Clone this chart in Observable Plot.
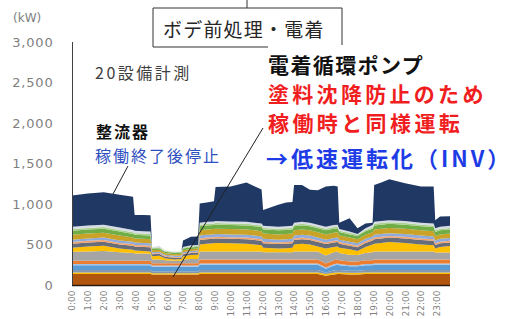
<!DOCTYPE html>
<html><head><meta charset="utf-8">
<script src="https://cdn.jsdelivr.net/npm/d3@7"></script>
<script src="https://cdn.jsdelivr.net/npm/@observablehq/plot@0.6"></script>
<style>
html,body{margin:0;padding:0;background:#fff;}
#wrap{position:relative;width:512px;height:319px;overflow:hidden;background:#fff;}
#chart{position:absolute;left:0;top:0;}
#over{position:absolute;left:0;top:0;}
#over text{font-family:"Noto Sans CJK JP","Noto Sans",sans-serif;dominant-baseline:central;}
g[aria-label="y-axis tick label"] text{letter-spacing:0.8px;}
</style></head><body>
<div id="wrap">
<div id="chart"></div>
<svg id="over" width="512" height="319" viewBox="0 0 512 319">
  <path d="M247,0 L247,8 M153,47 L153,8 L342,8 L342,45 M153,47 L268,47" fill="none" stroke="#333" stroke-width="1"/>
  <line x1="128" y1="166" x2="113" y2="194" stroke="#222" stroke-width="1"/>
  <line x1="263" y1="128" x2="173" y2="277" stroke="#222" stroke-width="1"/>
  <text x="13" y="18" style="font-family:'DejaVu Sans';font-size:12px;fill:#7f7f7f">(kW)</text>
  <text x="95" y="72" style="font-size:16px;fill:#404040;letter-spacing:2.5px">20設備計測</text>
  <text x="163" y="28" style="font-size:19px;fill:#262626;letter-spacing:1.2px">ボデ前処理・電着</text>
  <text x="268" y="64" style="font-size:21px;font-weight:700;fill:#111;letter-spacing:1.4px">電着循環ポンプ</text>
  <text x="268" y="93" style="font-size:21px;font-weight:700;fill:#F01E1E;letter-spacing:3.3px">塗料沈降防止のため</text>
  <text x="268" y="122" style="font-size:21px;font-weight:700;fill:#F01E1E;letter-spacing:3.4px">稼働時と同様運転</text>
  <text x="266" y="157" style="font-size:22px;font-weight:700;fill:#1E3CE6;letter-spacing:3px">→低速運転化（INV）</text>
  <text x="96" y="131" style="font-size:16px;font-weight:700;fill:#111;letter-spacing:2px">整流器</text>
  <text x="95" y="155" style="font-size:16px;fill:#2F4FC0;letter-spacing:2px">稼働終了後停止</text>
</svg>
</div>
<script>
// time points (hours)
const T = [0,1,2,3,3.85,3.95,4.5,4.95,5.05,5.5,5.85,6.5,6.9,7.0,7.5,7.95,8.05,8.5,8.95,9.05,10,11,11.5,11.95,12.05,13,13.5,13.9,14.0,14.5,15,15.5,16,16.5,16.75,16.85,17.5,18.0,18.5,18.95,19.05,19.5,20,21,22,22.8,22.9,23.2,23.83];

// stacked series, bottom -> top (kW)
const s01 = [135,135,135,135,135,135,135,135, 130,130,130,130,130,130,130,130, 135,135,135,135,135,135,135,135, 135,135,135,135, 135,135,135,135,115,130,135, 135,130,130,135,135, 135,135,135,135,135,135, 135,135,135];
const s02 = [20,20,20,20,20,20,20,20, 15,15,15,15,15,15,15,15, 20,20,20,20,20,20,20,20, 20,20,20,20, 20,20,20,20,20,20,20, 20,20,20,20,20, 20,20,20,20,20,20, 20,20,20];
const s03 = [30,30,30,30,30,30,30,30, 25,25,25,25,25,25,25,25, 30,30,30,30,30,30,30,30, 30,30,30,30, 30,30,30,30,20,30,30, 30,25,25,30,30, 30,30,30,30,30,30, 30,30,30];
const s04 = [60,60,60,60,60,60,60,60, 55,55,55,55,55,55,55,55, 65,65,65,65,65,65,65,65, 65,65,65,65, 65,65,65,65,45,60,65, 60,55,55,60,60, 65,65,65,65,65,65, 65,65,65];
const s05 = [15,15,15,15,15,15,15,15, 15,15,15,15,15,15,15,15, 15,15,15,15,15,15,15,15, 15,15,15,15, 15,15,15,15,15,15,15, 15,15,15,15,15, 15,15,15,15,15,15, 15,15,15];
const s06 = [40,40,40,40,40,40,40,40, 30,30,30,30,30,30,30,30, 50,50,50,50,50,50,50,50, 50,50,50,50, 50,50,50,50,50,50,50, 45,45,45,45,45, 50,50,50,50,50,50, 50,50,50];
const s07 = [110,115,120,105,95,90,88,85, 45,45,35,30,30,45,50,50, 100,100,100,100,100,100,100,100, 90,90,90,90, 100,100,100,100,100,100,100, 90,85,80,90,100, 100,100,100,100,100,100, 85,85,85];
const s08 = [50,60,65,45,40,35,32,30, 40,45,25,15,20,40,50,55, 85,95,100,105,100,95,85,75, 55,45,50,55, 85,95,85,60,85,65,60, 65,65,50,75,95, 95,105,115,105,85,75, 50,70,80];
const s09 = [50,50,50,50,50,50,50,50, 25,25,20,20,20,25,25,25, 55,55,55,55,55,55,55,55, 55,55,55,55, 55,55,55,55,55,55,55, 50,45,45,50,50, 55,55,55,55,55,55, 45,45,45];
const s10 = [20,20,20,20,20,20,20,20, 10,10,10,10,10,10,10,10, 20,20,20,20,20,20,20,20, 20,20,20,20, 20,20,20,20,20,20,20, 20,20,20,20,20, 20,20,20,20,20,20, 20,20,20];
const s11 = [30,30,30,30,30,30,30,30, 15,15,15,15,15,15,15,15, 35,35,35,35,35,35,35,35, 35,35,35,35, 35,35,35,35,35,35,35, 30,30,30,30,30, 35,35,35,35,35,35, 35,35,35];
const s12 = [60,60,60,60,50,50,50,50, 25,25,20,20,20,25,25,25, 65,65,65,65,65,65,65,65, 65,65,65,65, 65,65,65,65,65,65,65, 50,50,50,50,50, 65,65,65,65,65,65, 55,55,55];
const s13 = [50,50,50,50,45,45,45,45, 20,20,15,15,15,20,20,20, 50,50,50,50,50,50,50,50, 50,50,50,50, 50,50,50,50,50,50,50, 45,40,40,45,45, 50,50,50,50,50,50, 50,50,50];
const s14 = [20,20,20,20,20,20,20,20, 10,10,10,10,10,10,10,10, 20,20,20,20,20,20,20,20, 20,20,20,20, 20,20,20,20,20,20,20, 15,20,15,15,15, 20,20,20,20,20,20, 20,20,20];
const s15 = [30,30,30,30,30,30,30,30, 10,15,10,5,10,10,15,15, 25,25,25,25,25,25,25,25, 25,25,25,25, 25,25,25,25,25,25,25, 20,15,10,20,30, 25,25,25,25,25,25, 25,25,25];
const s16 = [385,395,400,405,410,195,200,200, 0,0,0,0,0,80,105,105, 235,240,250,420,430,485,450,420, 195,270,295,295, 465,455,405,425,495,485,470, 80,165,70,60,30, 455,475,505,465,445,455, 100,125,120];

const seriesNames = ["設備01","設備02","設備03","設備04","設備05","設備06","設備07","設備08","設備09","設備10","設備11","設備12","設備13","設備14","設備15","整流器"];
const seriesColors = ["#B0560F","#FFC000","#8497B0","#5B9BD5","#9DC3E6","#ED7D31","#A5A5A5","#FFC000","#676E7A","#F4A46A","#8FAADC","#C9A227","#70AD47","#A9D18E","#D6DCE4","#203864"];
const seriesValues = [s01,s02,s03,s04,s05,s06,s07,s08,s09,s10,s11,s12,s13,s14,s15,s16];

const yTicks = [0,500,1000,1500,2000,2500,3000];
const hourTicks = d3.range(0, 24);
const hourLabels = ["0:00","1:00","2:00","3:00","4:00","5:00","6:00","7:00","8:00","9:00","10:00","11:00","12:00","13:00","14:00","15:00","16:00","17:00","18:00","19:00","20:00","21:00","22:00","23:00"];

const rows = [];
seriesNames.forEach((name, k) => {
  T.forEach((t, i) => rows.push({t, v: seriesValues[k][i], s: name}));
});

const chart = Plot.plot({
  width: 512, height: 319,
  marginLeft: 72, marginRight: 62, marginTop: 42, marginBottom: 34,
  x: {domain: [0, T[T.length - 1]], axis: null},
  y: {domain: [0, 3000], axis: null},
  color: {domain: seriesNames, range: seriesColors},
  style: {fontFamily: "DejaVu Sans", color: "#7f7f7f", background: "transparent"},
  marks: [
    Plot.areaY(rows, {x: "t", y: "v", z: "s", fill: "s", order: seriesNames, curve: "linear"}),
    Plot.ruleY([0], {stroke: "#2b1a0e", strokeWidth: 1.5}),
    Plot.ruleX([0], {stroke: "#404040"}),
    Plot.axisY({ticks: yTicks, tickFormat: d3.format(","), tickSize: 0, tickPadding: 19, fontSize: 13, fill: "#7f7f7f", label: null}),
    Plot.axisX({ticks: hourTicks, tickFormat: d => hourLabels[d], tickRotate: -90, tickSize: 0, tickPadding: 5, fontSize: 9, fill: "#7f7f7f", label: null})
  ]
});
document.getElementById("chart").appendChild(chart);
</script>
</body></html>
